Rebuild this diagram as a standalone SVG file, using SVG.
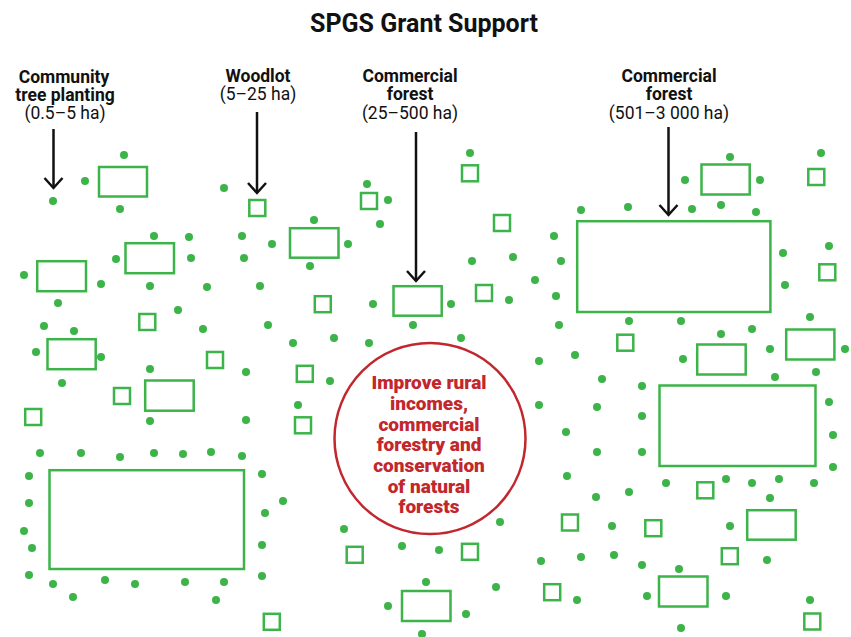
<svg xmlns="http://www.w3.org/2000/svg" width="851" height="637" viewBox="0 0 851 637">
<defs>
<style>
.t{font-family:Roboto,"Liberation Sans",sans-serif;fill:#111;text-anchor:middle}
.b{font-weight:700;font-size:17.5px}
.r{font-weight:400;font-size:17.5px}
.title{font-weight:700;font-size:25px}
.goal{font-family:Roboto,"Liberation Sans",sans-serif;font-weight:900;font-size:19px;fill:#c1272d;text-anchor:middle}
.pl rect{fill:none;stroke:#3cb44a;stroke-width:2.5}
.pl circle{fill:#3cb44a}
.ar{stroke:#111;stroke-width:2.5;fill:none;marker-end:url(#h)}
</style>
<marker id="h" markerUnits="userSpaceOnUse" markerWidth="24" markerHeight="24" viewBox="-12 -12 24 24" refX="0" refY="0" orient="auto" overflow="visible">
<path d="M-10,-9 L0,0 L-10,9" fill="none" stroke="#111" stroke-width="2.5"/>
</marker>
</defs>
<rect width="851" height="637" fill="#fff"/>
<g id="title"><text class="t title" x="424" y="32">SPGS Grant Support</text></g>
<g id="label-community">
<text class="t b" x="64" y="83">Community</text>
<text class="t b" x="65" y="100.5">tree planting</text>
<text class="t r" x="65" y="118.5">(0.5–5 ha)</text>
</g>
<g id="label-woodlot">
<text class="t b" x="258" y="82">Woodlot</text>
<text class="t r" x="258" y="100">(5–25 ha)</text>
</g>
<g id="label-commercial-small">
<text class="t b" x="410" y="82">Commercial</text>
<text class="t b" x="410" y="100">forest</text>
<text class="t r" x="410" y="118.5">(25–500 ha)</text>
</g>
<g id="label-commercial-large">
<text class="t b" x="669" y="82">Commercial</text>
<text class="t b" x="669" y="100">forest</text>
<text class="t r" x="669" y="118.5">(501–3 000 ha)</text>
</g>
<g id="connectors">
<line class="ar" x1="53.5" y1="129" x2="53.5" y2="188"/>
<line class="ar" x1="257" y1="112" x2="257" y2="193"/>
<line class="ar" x1="416" y1="132" x2="416" y2="281"/>
<line class="ar" x1="668.5" y1="127" x2="668.5" y2="215"/>
</g>
<g id="plots" class="pl">
<rect x="99" y="167" width="48" height="29.5"/>
<rect x="125.5" y="243.2" width="48.5" height="30"/>
<rect x="37.2" y="261.2" width="48.8" height="30"/>
<rect x="290" y="228.2" width="48.5" height="29.5"/>
<rect x="393.5" y="286.2" width="48.2" height="29.5"/>
<rect x="701.5" y="164.5" width="48.2" height="30"/>
<rect x="577.2" y="221.2" width="193.2" height="90.8"/>
<rect x="47.5" y="339.2" width="48.2" height="30"/>
<rect x="145.2" y="380.5" width="48.5" height="30.2"/>
<rect x="49.5" y="470.2" width="194.5" height="98.8"/>
<rect x="697.2" y="344.5" width="48.5" height="30"/>
<rect x="786.2" y="329.5" width="48.2" height="30"/>
<rect x="659.5" y="385.5" width="156" height="80.5"/>
<rect x="747.2" y="510.2" width="48.5" height="29.5"/>
<rect x="659" y="576.5" width="48.5" height="30"/>
<rect x="402" y="591" width="48.5" height="30"/>
<rect x="249.3" y="200" width="16" height="16"/>
<rect x="361" y="193" width="16" height="16"/>
<rect x="462" y="165.3" width="16" height="16"/>
<rect x="494" y="215" width="16" height="16"/>
<rect x="476" y="285" width="16" height="16"/>
<rect x="314.8" y="296.2" width="16" height="16"/>
<rect x="808.3" y="169" width="16" height="16"/>
<rect x="819.3" y="264.3" width="16" height="16"/>
<rect x="139.3" y="314" width="16" height="16"/>
<rect x="207" y="352" width="16" height="16"/>
<rect x="114" y="388" width="16" height="16"/>
<rect x="25.2" y="409" width="16" height="16"/>
<rect x="296.8" y="365.8" width="16" height="16"/>
<rect x="295" y="417.3" width="16" height="16"/>
<rect x="617.3" y="334.7" width="16" height="16"/>
<rect x="697.3" y="482.3" width="16" height="16"/>
<rect x="562" y="514.5" width="16" height="16"/>
<rect x="645.3" y="520.2" width="16" height="16"/>
<rect x="721.8" y="548.2" width="16" height="16"/>
<rect x="804.3" y="613.5" width="16" height="16"/>
<rect x="263.8" y="613.8" width="16" height="16"/>
<rect x="346.7" y="546.8" width="16" height="16"/>
<rect x="462" y="543.8" width="16" height="16"/>
<rect x="544.2" y="584.2" width="16" height="16"/>
<circle cx="124" cy="155" r="4"/><circle cx="85" cy="181" r="4"/><circle cx="53" cy="201" r="4"/><circle cx="120" cy="209" r="4"/>
<circle cx="224" cy="188" r="4"/><circle cx="154" cy="236" r="4"/><circle cx="189" cy="237" r="4"/><circle cx="242" cy="236" r="4"/>
<circle cx="272" cy="244" r="4"/><circle cx="116" cy="259" r="4"/><circle cx="191" cy="258" r="4"/><circle cx="244" cy="258" r="4"/>
<circle cx="24" cy="275" r="4"/><circle cx="101" cy="284" r="4"/><circle cx="150" cy="286" r="4"/><circle cx="207" cy="287" r="4"/>
<circle cx="260" cy="286" r="4"/><circle cx="58" cy="303" r="4"/><circle cx="178" cy="310" r="4"/>
<circle cx="470" cy="153" r="4"/><circle cx="367" cy="184" r="4"/><circle cx="388" cy="200" r="4"/><circle cx="380" cy="224" r="4"/>
<circle cx="314" cy="220" r="4"/><circle cx="348" cy="244" r="4"/><circle cx="310" cy="266" r="4"/><circle cx="554" cy="236" r="4"/>
<circle cx="472" cy="261" r="4"/><circle cx="513" cy="257" r="4"/><circle cx="561" cy="261" r="4"/><circle cx="535" cy="280" r="4"/>
<circle cx="556" cy="296" r="4"/><circle cx="373" cy="304" r="4"/><circle cx="451" cy="304" r="4"/><circle cx="509" cy="300" r="4"/>
<circle cx="821" cy="153" r="4"/><circle cx="730" cy="157" r="4"/><circle cx="685" cy="180" r="4"/><circle cx="760" cy="180" r="4"/>
<circle cx="581" cy="210" r="4"/><circle cx="628" cy="207" r="4"/><circle cx="692" cy="209" r="4"/><circle cx="721" cy="205" r="4"/>
<circle cx="756" cy="212" r="4"/><circle cx="783" cy="253" r="4"/><circle cx="785" cy="285" r="4"/><circle cx="829" cy="246" r="4"/>
<circle cx="44" cy="326" r="4"/><circle cx="74" cy="331" r="4"/><circle cx="203" cy="329" r="4"/><circle cx="268" cy="325" r="4"/>
<circle cx="36" cy="352" r="4"/><circle cx="101" cy="357" r="4"/><circle cx="62" cy="383" r="4"/><circle cx="246" cy="372" r="4"/>
<circle cx="150" cy="369" r="4"/><circle cx="150" cy="421" r="4"/><circle cx="246" cy="420" r="4"/>
<circle cx="40" cy="453" r="4"/><circle cx="81" cy="453" r="4"/><circle cx="120" cy="457" r="4"/><circle cx="154" cy="453" r="4"/>
<circle cx="183" cy="454" r="4"/><circle cx="211" cy="452" r="4"/><circle cx="242" cy="456" r="4"/>
<circle cx="29" cy="476" r="4"/><circle cx="29" cy="503" r="4"/><circle cx="24" cy="531" r="4"/><circle cx="32" cy="548" r="4"/>
<circle cx="29" cy="575" r="4"/><circle cx="53" cy="584" r="4"/><circle cx="73" cy="597" r="4"/><circle cx="105" cy="580" r="4"/>
<circle cx="135" cy="584" r="4"/><circle cx="185" cy="582" r="4"/><circle cx="224" cy="582" r="4"/><circle cx="216" cy="600" r="4"/>
<circle cx="262" cy="474" r="4"/><circle cx="283" cy="501" r="4"/><circle cx="265" cy="513" r="4"/><circle cx="262" cy="545" r="4"/>
<circle cx="262" cy="576" r="4"/>
<circle cx="413" cy="325" r="4"/><circle cx="559" cy="325" r="4"/><circle cx="293" cy="343" r="4"/><circle cx="334" cy="338" r="4"/>
<circle cx="369" cy="343" r="4"/><circle cx="461" cy="338" r="4"/><circle cx="539" cy="361" r="4"/><circle cx="330" cy="381" r="4"/>
<circle cx="298" cy="405" r="4"/><circle cx="539" cy="405" r="4"/><circle cx="566" cy="432" r="4"/>
<circle cx="629" cy="321" r="4"/><circle cx="681" cy="321" r="4"/><circle cx="575" cy="355" r="4"/><circle cx="721" cy="334" r="4"/>
<circle cx="752" cy="329" r="4"/><circle cx="810" cy="317" r="4"/><circle cx="683" cy="359" r="4"/><circle cx="770" cy="349" r="4"/>
<circle cx="845" cy="349" r="4"/><circle cx="816" cy="372" r="4"/><circle cx="775" cy="377" r="4"/><circle cx="602" cy="379" r="4"/>
<circle cx="642" cy="386" r="4"/><circle cx="829" cy="402" r="4"/><circle cx="833" cy="435" r="4"/><circle cx="833" cy="467" r="4"/>
<circle cx="597" cy="407" r="4"/><circle cx="642" cy="416" r="4"/><circle cx="597" cy="452" r="4"/><circle cx="642" cy="452" r="4"/>
<circle cx="567" cy="476" r="4"/><circle cx="596" cy="497" r="4"/><circle cx="629" cy="492" r="4"/><circle cx="666" cy="483" r="4"/>
<circle cx="726" cy="479" r="4"/><circle cx="752" cy="483" r="4"/><circle cx="779" cy="479" r="4"/><circle cx="814" cy="483" r="4"/>
<circle cx="770" cy="498" r="4"/><circle cx="730" cy="526" r="4"/><circle cx="612" cy="526" r="4"/><circle cx="581" cy="557" r="4"/>
<circle cx="614" cy="555" r="4"/><circle cx="642" cy="565" r="4"/><circle cx="679" cy="569" r="4"/><circle cx="767" cy="560" r="4"/>
<circle cx="647" cy="596" r="4"/><circle cx="726" cy="596" r="4"/><circle cx="577" cy="600" r="4"/><circle cx="681" cy="628" r="4"/>
<circle cx="810" cy="600" r="4"/>
<circle cx="344" cy="529" r="4"/><circle cx="402" cy="546" r="4"/><circle cx="439" cy="550" r="4"/><circle cx="500" cy="522" r="4"/>
<circle cx="541" cy="561" r="4"/><circle cx="496" cy="587" r="4"/><circle cx="426" cy="582" r="4"/><circle cx="388" cy="606" r="4"/>
<circle cx="466" cy="614" r="4"/><circle cx="422" cy="634" r="4"/>
</g>
<g id="goal">
<circle cx="430" cy="438.5" r="95.5" fill="#fff" stroke="#c1272d" stroke-width="2.5"/>
<text class="goal" x="429" y="389.3">Improve rural</text>
<text class="goal" x="429" y="410">incomes,</text>
<text class="goal" x="429" y="430.7">commercial</text>
<text class="goal" x="429" y="451.3">forestry and</text>
<text class="goal" x="429" y="472">conservation</text>
<text class="goal" x="429" y="492.7">of natural</text>
<text class="goal" x="429" y="513.4">forests</text>
</g>
</svg>
